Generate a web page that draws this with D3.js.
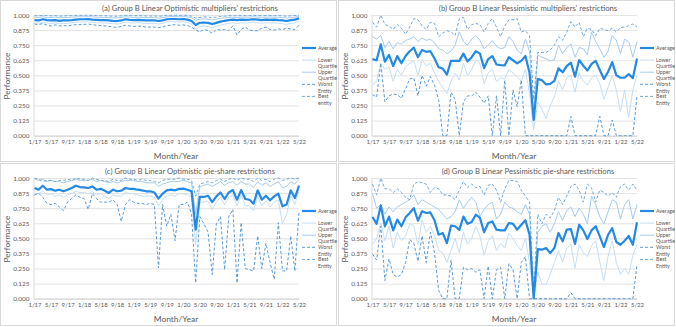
<!DOCTYPE html>
<html>
<head>
<meta charset="utf-8">
<script src="https://cdn.jsdelivr.net/npm/d3@7"></script>
<style>
  body { margin: 0; background: #fff; }
  svg { display: block; font-family: Lato, "Open Sans", sans-serif; }
</style>
</head>
<body>
<svg id="chart" width="676" height="327"></svg>
<script>
// months Jan 2017 .. May 2022
var months = [];
for (var yr = 17; yr <= 22; yr++) {
  for (var mo = 1; mo <= 12; mo++) {
    if (yr === 22 && mo > 5) break;
    months.push(mo + "/" + yr);
  }
}
var tickLabels = ["1/17","5/17","9/17","1/18","5/18","9/18","1/19","5/19","9/19",
  "1/20","5/20","9/20","1/21","5/21","9/21","1/22","5/22"];
var yTicks = [0, 0.125, 0.25, 0.375, 0.5, 0.625, 0.75, 0.875, 1];

// (a) optimistic multipliers
var aAverage = [0.958,0.955,0.965,0.958,0.955,0.958,0.952,0.955,0.955,0.958,
  0.962,0.965,0.965,0.967,0.962,0.96,0.958,0.958,0.955,0.952,
  0.95,0.955,0.965,0.96,0.958,0.96,0.958,0.955,0.955,0.955,
  0.95,0.955,0.965,0.967,0.967,0.965,0.967,0.962,0.95,0.917,
  0.936,0.938,0.935,0.925,0.935,0.945,0.952,0.958,0.962,0.958,
  0.962,0.96,0.962,0.965,0.962,0.958,0.962,0.96,0.962,0.958,
  0.955,0.95,0.958,0.962,0.972];
var aLower = [0.935,0.932,0.94,0.935,0.93,0.935,0.928,0.93,0.93,0.935,
  0.94,0.942,0.942,0.945,0.94,0.936,0.935,0.934,0.93,0.928,
  0.925,0.93,0.942,0.936,0.934,0.936,0.934,0.93,0.93,0.93,
  0.925,0.93,0.942,0.945,0.944,0.942,0.944,0.938,0.925,0.88,
  0.905,0.908,0.905,0.895,0.905,0.915,0.925,0.93,0.936,0.93,
  0.936,0.934,0.936,0.94,0.936,0.932,0.936,0.934,0.936,0.932,
  0.928,0.922,0.93,0.936,0.95];
var aUpper = [0.982,0.98,0.985,0.978,0.98,0.982,0.978,0.98,0.98,0.982,
  0.985,0.985,0.985,0.987,0.985,0.982,0.98,0.98,0.978,0.976,
  0.976,0.98,0.985,0.982,0.98,0.982,0.98,0.978,0.978,0.978,
  0.975,0.978,0.985,0.987,0.987,0.985,0.987,0.985,0.978,0.955,
  0.965,0.968,0.965,0.96,0.965,0.972,0.976,0.98,0.982,0.98,
  0.982,0.982,0.982,0.985,0.982,0.98,0.982,0.982,0.982,0.98,
  0.978,0.975,0.98,0.982,0.99];
var aWorst = [0.925,0.92,0.93,0.915,0.91,0.918,0.91,0.912,0.91,0.915,
  0.92,0.92,0.922,0.925,0.92,0.915,0.912,0.91,0.905,0.9,
  0.898,0.905,0.915,0.91,0.905,0.908,0.905,0.9,0.9,0.9,
  0.895,0.9,0.912,0.915,0.92,0.915,0.918,0.912,0.9,0.876,
  0.86,0.88,0.87,0.848,0.88,0.875,0.88,0.87,0.91,0.834,
  0.88,0.9,0.875,0.87,0.87,0.89,0.9,0.88,0.875,0.885,
  0.88,0.89,0.885,0.88,0.915];
var aBest = [0.995,0.993,0.997,0.994,0.993,0.995,0.99,0.993,0.994,0.995,
  0.997,0.997,0.998,0.998,0.997,0.995,0.994,0.994,0.992,0.99,
  0.99,0.993,0.997,0.995,0.994,0.995,0.994,0.992,0.992,0.992,
  0.99,0.992,0.997,0.998,0.998,0.997,0.998,0.997,0.99,0.975,
  0.98,0.985,0.982,0.978,0.982,0.988,0.99,0.994,0.995,0.994,
  0.995,0.995,0.995,0.997,0.995,0.994,0.995,0.995,0.995,0.994,
  0.993,0.99,0.994,0.995,0.999];

// (b) pessimistic multipliers
var bAverage = [0.634,0.625,0.757,0.613,0.67,0.577,0.66,0.6,0.66,0.7,
  0.73,0.65,0.71,0.695,0.7,0.64,0.567,0.556,0.506,0.62,
  0.62,0.62,0.68,0.615,0.65,0.7,0.68,0.56,0.635,0.66,
  0.59,0.585,0.583,0.65,0.625,0.6,0.62,0.66,0.52,0.13,
  0.47,0.46,0.425,0.43,0.455,0.558,0.525,0.577,0.605,0.489,
  0.627,0.58,0.54,0.595,0.62,0.545,0.47,0.53,0.61,0.5,
  0.48,0.48,0.51,0.477,0.64];
var bLower = [0.42,0.45,0.6,0.55,0.57,0.45,0.55,0.5,0.57,0.6,
  0.62,0.5,0.63,0.58,0.6,0.52,0.45,0.4,0.35,0.45,
  0.52,0.46,0.6,0.5,0.55,0.63,0.6,0.43,0.52,0.55,
  0.45,0.48,0.47,0.55,0.52,0.49,0.45,0.55,0.35,0.05,
  0.28,0.22,0.14,0.25,0.32,0.45,0.38,0.48,0.5,0.36,
  0.52,0.45,0.42,0.48,0.5,0.43,0.3,0.4,0.5,0.38,
  0.2,0.38,0.15,0.38,0.5];
var bUpper = [0.82,0.8,0.83,0.73,0.78,0.72,0.77,0.76,0.79,0.8,
  0.82,0.78,0.81,0.79,0.8,0.77,0.72,0.71,0.68,0.7,
  0.75,0.86,0.78,0.75,0.8,0.83,0.79,0.72,0.75,0.79,
  0.74,0.72,0.73,0.82,0.78,0.71,0.68,0.8,0.7,0.2,
  0.67,0.65,0.64,0.62,0.63,0.75,0.68,0.73,0.76,0.65,
  0.73,0.72,0.67,0.86,0.78,0.72,0.65,0.7,0.83,0.79,
  0.68,0.8,0.78,0.65,0.78];
var bWorst = [0.34,0.32,0.6,0.28,0.33,0.345,0.34,0.31,0.39,0.47,
  0.48,0.33,0.5,0.41,0.49,0.42,0.3,0,0,0.36,
  0.3,0,0.28,0.33,0.33,0.36,0.32,0.27,0.33,0,
  0.33,0,0.46,0,0.38,0.24,0.46,0,0,0,
  0,0,0,0,0,0,0,0,0.16,0,
  0,0,0,0,0,0.16,0,0,0.13,0,
  0,0,0,0,0.33];
var bBest = [0.94,0.9,1,0.92,0.91,0.88,0.92,0.89,0.84,0.9,
  0.97,0.96,0.91,0.88,0.94,0.93,0.82,0.85,0.87,0.86,
  0.83,0.97,0.98,0.88,0.92,0.93,0.92,0.86,0.93,0.97,
  0.9,0.82,0.91,0.96,0.96,0.97,0.86,0.87,0.83,0.3,
  0.69,0.69,0.69,0.71,0.75,0.82,0.79,0.86,0.945,0.9,
  0.94,0.82,0.89,0.88,0.83,0.89,0.88,0.87,0.89,0.86,
  0.895,0.9,0.91,0.925,0.9];

// (c) optimistic pie-share
var cAverage = [0.917,0.903,0.936,0.903,0.908,0.895,0.903,0.89,0.903,0.917,
  0.936,0.925,0.922,0.917,0.93,0.903,0.91,0.895,0.876,0.903,
  0.89,0.895,0.917,0.91,0.91,0.903,0.898,0.89,0.89,0.88,
  0.83,0.87,0.898,0.903,0.898,0.91,0.912,0.903,0.89,0.572,
  0.843,0.843,0.853,0.8,0.848,0.88,0.826,0.88,0.9,0.82,
  0.9,0.826,0.82,0.787,0.898,0.82,0.853,0.815,0.848,0.87,
  0.765,0.78,0.898,0.834,0.936];
var cLower = [0.87,0.87,0.89,0.86,0.87,0.85,0.86,0.84,0.86,0.87,
  0.89,0.88,0.88,0.87,0.89,0.86,0.87,0.85,0.83,0.86,
  0.85,0.85,0.88,0.87,0.87,0.86,0.85,0.85,0.85,0.84,
  0.77,0.82,0.85,0.86,0.85,0.87,0.87,0.86,0.84,0.45,
  0.8,0.8,0.81,0.74,0.8,0.84,0.78,0.84,0.86,0.77,
  0.86,0.77,0.77,0.73,0.85,0.77,0.81,0.76,0.8,0.82,
  0.62,0.7,0.85,0.78,0.9];
var cUpper = [0.99,0.98,0.99,0.97,0.98,0.97,0.97,0.96,0.97,0.98,
  0.99,0.98,0.98,0.98,0.99,0.97,0.98,0.97,0.96,0.97,
  0.96,0.97,0.98,0.98,0.98,0.97,0.97,0.96,0.96,0.96,
  0.93,0.95,0.96,0.97,0.97,0.97,0.98,0.97,0.96,0.7,
  0.93,0.94,0.95,0.93,0.95,0.97,0.94,0.96,0.97,0.94,
  0.97,0.95,0.95,0.92,0.97,0.94,0.96,0.93,0.95,0.97,
  0.92,0.93,0.97,0.95,0.99];
var cWorst = [0.86,0.875,0.84,0.79,0.78,0.79,0.76,0.73,0.8,0.83,
  0.86,0.84,0.83,0.74,0.87,0.83,0.8,0.8,0.8,0.82,
  0.78,0.64,0.78,0.82,0.8,0.79,0.79,0.78,0.79,0.78,
  0.254,0.78,0.6,0.7,0.48,0.78,0.78,0.8,0.7,0.13,
  0.68,0.62,0.55,0.2,0.62,0.68,0.24,0.68,0.74,0.13,
  0.63,0.25,0.24,0.23,0.52,0.25,0.46,0.3,0.16,0.63,
  0.23,0.23,0.52,0.23,0.72];
var cBest = [1,0.99,0.97,0.98,0.98,0.97,0.98,0.98,0.99,0.98,
  1,0.99,0.99,0.98,1,0.99,0.98,0.98,0.97,0.99,
  0.98,0.98,1,0.99,0.99,0.98,0.99,0.98,0.98,0.97,
  0.96,0.98,0.99,0.99,0.99,1,0.99,0.99,0.98,0.85,
  0.95,0.96,0.97,0.96,0.98,0.99,0.97,0.99,1,0.98,
  1,0.99,0.99,0.97,1,0.98,0.99,0.97,0.99,1,
  0.98,0.99,1,0.99,1];

// (d) pessimistic pie-share
var dAverage = [0.677,0.62,0.773,0.6,0.68,0.566,0.655,0.6,0.674,0.71,
  0.75,0.646,0.724,0.71,0.715,0.65,0.53,0.544,0.46,0.605,
  0.6,0.57,0.68,0.62,0.635,0.696,0.67,0.55,0.627,0.64,
  0.572,0.566,0.566,0.627,0.62,0.572,0.613,0.65,0.53,0.005,
  0.41,0.406,0.42,0.378,0.42,0.544,0.475,0.572,0.577,0.453,
  0.613,0.566,0.494,0.566,0.6,0.517,0.428,0.53,0.585,0.47,
  0.447,0.48,0.52,0.447,0.633];
var dLower = [0.45,0.5,0.63,0.48,0.6,0.42,0.55,0.48,0.52,0.62,
  0.6,0.45,0.65,0.55,0.6,0.52,0.4,0.38,0.3,0.4,
  0.5,0.38,0.55,0.45,0.5,0.6,0.52,0.36,0.48,0.52,
  0.4,0.46,0.42,0.54,0.5,0.44,0.4,0.5,0.3,0,
  0.22,0.12,0.12,0.2,0.3,0.4,0.3,0.42,0.45,0.25,
  0.45,0.38,0.35,0.44,0.48,0.3,0.15,0.35,0.48,0.3,
  0.2,0.25,0.2,0.36,0.45];
var dUpper = [0.87,0.75,0.78,0.7,0.76,0.72,0.76,0.78,0.8,0.82,
  0.86,0.78,0.82,0.8,0.78,0.76,0.74,0.7,0.66,0.68,
  0.72,0.82,0.75,0.8,0.84,0.8,0.68,0.74,0.78,0.8,
  0.66,0.7,0.8,0.76,0.75,0.72,0.7,0.78,0.7,0.03,
  0.55,0.6,0.62,0.55,0.62,0.72,0.65,0.73,0.76,0.68,
  0.75,0.7,0.62,0.85,0.78,0.68,0.62,0.72,0.82,0.8,
  0.66,0.78,0.82,0.66,0.78];
var dWorst = [0.37,0.32,0.6,0.15,0.33,0.2,0.18,0.2,0.3,0.49,
  0.46,0.31,0.52,0.3,0.55,0.38,0.07,0,0,0.32,
  0,0,0.26,0.24,0.25,0.22,0.24,0,0.27,0,
  0.24,0.26,0,0.29,0.24,0,0.3,0.35,0,0,
  0,0,0,0,0,0,0,0,0.05,0,
  0,0,0,0,0,0,0,0,0,0,
  0,0,0,0,0.28];
var dBest = [0.95,0.86,1,0.91,0.91,0.88,0.91,0.88,0.84,0.82,
  0.95,0.97,0.96,0.95,0.88,0.92,0.91,0.86,0.86,0.85,
  0.82,0.9,0.97,0.92,0.95,0.92,0.93,0.86,0.94,0.95,
  0.9,0.8,0.91,0.98,0.98,0.97,0.9,0.85,0.8,0.05,
  0.7,0.62,0.7,0.67,0.73,0.84,0.78,0.85,0.93,0.95,
  0.9,0.8,0.95,0.92,0.8,0.9,0.88,0.85,0.88,0.84,
  0.93,0.95,0.9,0.95,0.9];

var panels = [
  { x: 0, y: 0, title: "(a) Group B Linear Optimistic multipliers' restrictions",
    s: [aAverage, aLower, aUpper, aWorst, aBest], bestLabel: "entity" },
  { x: 338, y: 0, title: "(b) Group B Linear Pessimistic multipliers' restrictions",
    s: [bAverage, bLower, bUpper, bWorst, bBest], bestLabel: "Entity" },
  { x: 0, y: 163, title: "(c) Group B Linear Optimistic pie-share restrictions",
    s: [cAverage, cLower, cUpper, cWorst, cBest], bestLabel: "Entity" },
  { x: 338, y: 163, title: "(d) Group B Linear Pessimistic pie-share restrictions",
    s: [dAverage, dLower, dUpper, dWorst, dBest], bestLabel: "Entity" }
];

// series styling, in the legend order
var seriesStyle = [
  { name: ["Average"], color: "#2389e2", width: 2.2, dash: null },
  { name: ["Lower", "Quartile"], color: "#c6def4", width: 1, dash: null },
  { name: ["Upper", "Quartile"], color: "#a8cbec", width: 1, dash: null },
  { name: ["Worst", "Entity"], color: "#5b9bd5", width: 1, dash: "3,2" },
  { name: ["Best", "Entity"], color: "#6fa9dd", width: 1, dash: "3,2" }
];

var svg = d3.select("#chart");
var plotLeft = 33.5, plotRight = 299, plotTop = 15, plotBottom = 135.7;

var x = d3.scalePoint().domain(months).range([34.5, 299]);
var y = d3.scaleLinear().domain([0, 1]).range([plotBottom, plotTop]);

panels.forEach(function (p) {
  var g = svg.append("g").attr("transform", "translate(" + p.x + "," + p.y + ")");

  g.append("rect")
    .attr("x", 0.5).attr("y", 0.5)
    .attr("width", 336).attr("height", p.y ? 162 : 161)
    .attr("fill", "#fff")
    .attr("stroke", "#d9d9d9");

  g.append("text")
    .attr("x", 190).attr("y", 11)
    .attr("text-anchor", "middle")
    .style("font-size", "7.7px")
    .style("fill", "#595959")
    .text(p.title);

  // gridlines + y labels
  var yAxis = d3.axisLeft(y).tickValues(yTicks).tickFormat(d3.format(".3f"))
    .tickSize(-(plotRight - plotLeft)).tickPadding(4);
  var ga = g.append("g").attr("transform", "translate(" + plotLeft + ",0)").call(yAxis);
  ga.select(".domain").attr("stroke", "#d9d9d9");
  ga.selectAll(".tick line").attr("stroke", "#e3e3e3");
  ga.selectAll("text").style("font-size", "6.4px").style("fill", "#595959")
    .style("font-family", "Lato, sans-serif");

  var xAxis = d3.axisBottom(x).tickValues(tickLabels).tickSize(0).tickPadding(4);
  var gx = g.append("g").attr("transform", "translate(0," + plotBottom + ")").call(xAxis);
  gx.select(".domain").attr("stroke", "#d9d9d9");
  gx.selectAll("text").style("font-size", "6px").style("fill", "#595959")
    .style("font-family", "Lato, sans-serif");

  g.append("text")
    .attr("transform", "translate(9.5,76)rotate(-90)")
    .attr("text-anchor", "middle")
    .style("font-size", "8.4px")
    .style("fill", "#595959")
    .text("Performance");

  g.append("text")
    .attr("x", 176).attr("y", 158.5)
    .attr("text-anchor", "middle")
    .style("font-size", "8.4px")
    .style("fill", "#595959")
    .text("Month/Year");

  var line = d3.line()
    .x(function (d, i) { return x(months[i]); })
    .y(function (d) { return y(d); });

  // light series first, average on top
  [1, 2, 3, 4, 0].forEach(function (k) {
    var st = seriesStyle[k];
    g.append("path")
      .datum(p.s[k])
      .attr("fill", "none")
      .attr("stroke", st.color)
      .attr("stroke-width", st.width)
      .attr("stroke-dasharray", st.dash)
      .attr("stroke-linejoin", "round")
      .attr("d", line);
  });

  // legend
  var lg = g.append("g").attr("transform", "translate(302,48)");
  seriesStyle.forEach(function (st, k) {
    var ly = k * 12.1;
    lg.append("line")
      .attr("x1", 0).attr("x2", 14)
      .attr("y1", ly).attr("y2", ly)
      .attr("stroke", st.color)
      .attr("stroke-width", st.width)
      .attr("stroke-dasharray", st.dash);
    st.name.forEach(function (w, j) {
      lg.append("text")
        .attr("x", 16).attr("y", ly + j * 6.2 + 2)
        .style("font-size", "5.3px")
        .style("fill", "#595959")
        .text(k === 4 && j === 1 ? p.bestLabel : w);
    });
  });
});
</script>
</body>
</html>
